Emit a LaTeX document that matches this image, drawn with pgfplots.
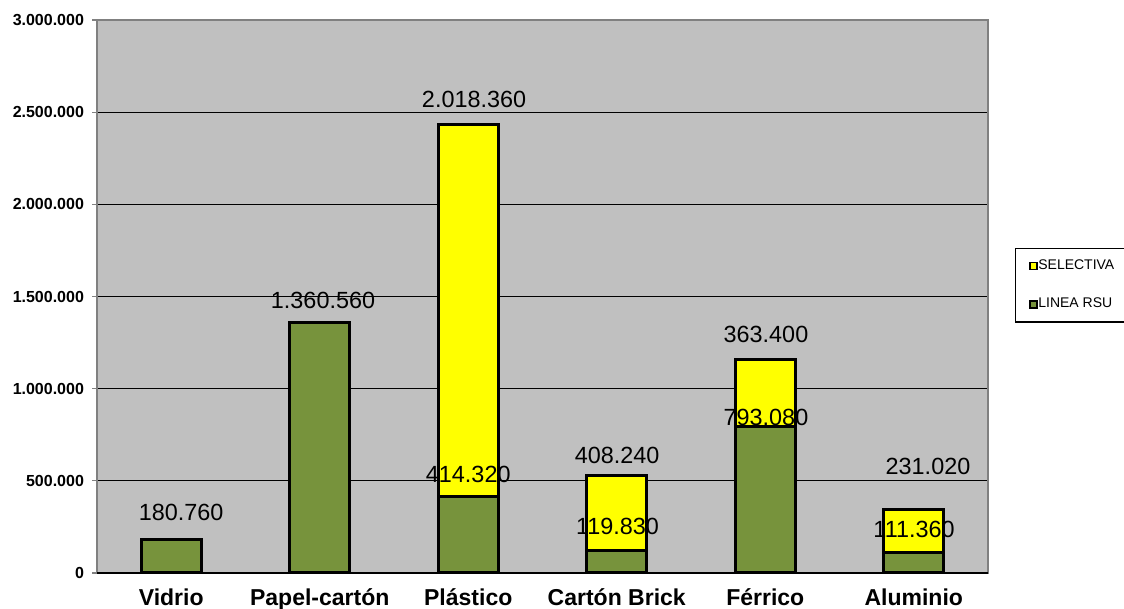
\documentclass[border=0pt]{standalone}
\usepackage{pgfplots}
\pgfplotsset{compat=1.18}
\usepackage{fontspec}
\setmainfont{Liberation Sans}
\definecolor{bggray}{RGB}{192,192,192}
\definecolor{axgray}{RGB}{128,128,128}
\definecolor{rsu}{RGB}{119,147,60}
\definecolor{selec}{RGB}{255,255,0}

\begin{document}
\begin{tikzpicture}
  \begin{axis}[
      at={(48.5pt,18pt)}, anchor=south west,
      scale only axis,
      width=445.5pt, height=276.5pt,
      ybar stacked, bar width=30pt,
      xmin=0.5, xmax=6.5,
      ymin=0, ymax=3000000,
      axis background/.style={fill=bggray},
      axis line style={draw=axgray, line width=1pt},
      xtick={1,...,6},
      xticklabels={Vidrio,Papel-cartón,Plástico,Cartón Brick,Férrico,Aluminio},
      x tick style={draw=none},
      extra x ticks={0.5,1.5,2.5,3.5,4.5,5.5,6.5},
      extra x tick labels={},
      extra x tick style={tick style={draw=axgray, line width=0.6pt}},
      xtick pos=bottom, ytick pos=left,
      ytick={0,500000,...,3000000},
      major tick length=2.5pt,
      y tick style={draw=axgray, line width=0.6pt},
      tick align=outside,
      ymajorgrids,
      major grid style={draw=black, line width=0.5pt},
      scaled y ticks=false,
      /pgf/number format/assume math mode=true,
      ticklabel style={font=\bfseries\fontsize{8}{9}\selectfont},
      yticklabel style={xshift=-0.5pt, /pgf/number format/.cd, fixed, 1000 sep={.}},
      xticklabel style={font=\bfseries\fontsize{11.5}{13}\selectfont, yshift=-2pt},
      legend image code/.code={\draw[#1,draw=black,line width=0.7pt] (0pt,-1.75pt) rectangle (3.5pt,1.75pt);},
      reverse legend,
      legend cell align=left,
      legend style={at={(1.03,0.588)}, anchor=north west, draw=black,
        line width=0.6pt, fill=white,
        font=\fontsize{7}{8}\selectfont,
        inner xsep=7pt, inner ysep=3.5pt, row sep=9pt,
        nodes={inner xsep=0.3pt}},
      clip=false,
    ]
    \addplot[fill=rsu, draw=black, line width=1.5pt]
      coordinates {(1,180760) (2,1360560) (3,414320) (4,119830) (5,793080) (6,111360)};
    \addlegendentry{LINEA RSU}
    \addplot[fill=selec, draw=black, line width=1.5pt]
      coordinates {(1,0) (2,0) (3,2018360) (4,408240) (5,363400) (6,231020)};
    \addlegendentry{SELECTIVA}

    \draw[black, line width=0.6pt] (rel axis cs:0,0) -- (rel axis cs:1,0);

    \coordinate (l1) at (axis cs:1.066,326087);
    \coordinate (l2) at (axis cs:2.022,1479891);
    \coordinate (l3) at (axis cs:3.0,532609);
    \coordinate (l4) at (axis cs:3.039,2570652);
    \coordinate (l5) at (axis cs:4.005,250000);
    \coordinate (l6) at (axis cs:4.002,635870);
    \coordinate (l7) at (axis cs:5.005,842391);
    \coordinate (l8) at (axis cs:5.005,1293478);
    \coordinate (l9) at (axis cs:6.002,233696);
    \coordinate (l10) at (axis cs:6.096,576087);
  \end{axis}
  \begin{scope}[every node/.style={font=\fontsize{11.7}{13}\selectfont, inner sep=0pt}]
    \node at (l1) {180.760};
    \node at (l2) {1.360.560};
    \node at (l3) {414.320};
    \node at (l4) {2.018.360};
    \node at (l5) {119.830};
    \node at (l6) {408.240};
    \node at (l7) {793.080};
    \node at (l8) {363.400};
    \node at (l9) {111.360};
    \node at (l10) {231.020};
  \end{scope}
  \pgfresetboundingbox
  \path[use as bounding box] (0,0) rectangle (562pt,304.5pt);
\end{tikzpicture}
\end{document}
